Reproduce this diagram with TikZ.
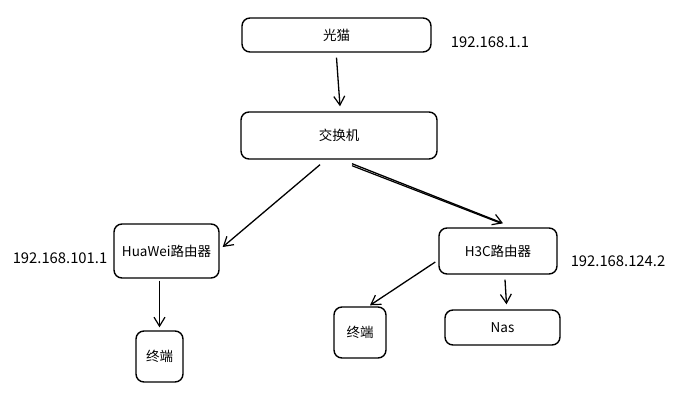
\documentclass[tikz,border=0pt]{standalone}
\usepackage{fontspec}
\setmainfont{Noto Sans CJK SC}
\usetikzlibrary{arrows.meta,calc}
\begin{document}
\begin{tikzpicture}[x=1pt,y=-1pt,
  box/.style={draw=black,line width=1.4pt,rounded corners=8pt,font=\fontsize{13.5}{15}\selectfont,inner sep=0pt},
  lbl/.style={font=\fontsize{14.8}{16}\selectfont,inner sep=0pt},
  arr/.style={draw=black,line width=1.3pt,-{Straight Barb[length=9pt,width=11pt,line width=1.2pt]}}]
\useasboundingbox[fill=white] (0,0) rectangle (690,405);
\node[box,minimum width=189pt,minimum height=34pt] (gm) at (336.5,35) {光猫};
\node[box,minimum width=196pt,minimum height=47pt] (sw) at (339,135.5) {交换机};
\node[box,minimum width=105pt,minimum height=54pt] (hw) at (166.5,251) {HuaWei路由器};
\node[box,minimum width=47pt,minimum height=51pt] (t1) at (159.5,356.5) {终端};
\node[box,minimum width=118pt,minimum height=46pt] (h3) at (498,251) {H3C路由器};
\node[box,minimum width=52pt,minimum height=51pt] (t2) at (360,332.5) {终端};
\node[box,minimum width=115pt,minimum height=35pt] (nas) at (502.5,327.5) {Nas};
\node[lbl] (ip1) at (490,42) {192.168.1.1};
\node[lbl] (ip2) at (60,258) {192.168.101.1};
\node[lbl] (ip3) at (618,261) {192.168.124.2};
\draw[arr] ($(gm.south)+(0,5)$) -- ($(sw.north)+(1,-5)$);
\draw[arr] ($(sw.south)+(-19,5)$) -- ($(hw.east)+(3,-4)$);
\draw[draw=black,line width=1.2pt] ($(sw.south)+(13,6)$) -- ($(h3.north)+(3,-4)$);
\draw[arr] ($(sw.south)+(13,4)$) -- ($(h3.north)+(5,-4)$);
\draw[arr] ($(hw.south)+(-7,2)$) -- ($(t1.north)+(0,-3)$);
\draw[arr] ($(h3.west)+(-3,11)$) -- ($(t2.north)+(10,-1)$);
\draw[arr] ($(h3.south)+(7,5)$) -- ($(nas.north)+(4,-5)$);
\end{tikzpicture}
\end{document}
